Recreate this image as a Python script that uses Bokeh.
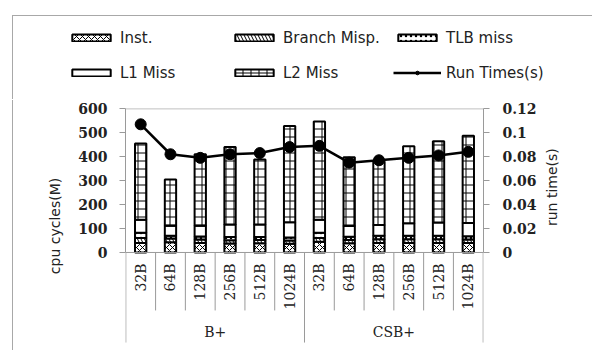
import math
from bokeh.plotting import figure
from bokeh.models import (Range1d, LinearAxis, FixedTicker, Span, Legend, LegendItem,
                          ColumnDataSource, CustomJSTickFormatter)
from bokeh.core.properties import value
from bokeh.embed import file_html
from bokeh.resources import INLINE

groups = ["B+", "CSB+"]
sizes = ["32B", "64B", "128B", "256B", "512B", "1024B"]
inst = [40, 43, 40, 37, 38, 36, 45, 38, 40, 40, 40, 40]
branch = [20, 15, 14, 14, 14, 14, 15, 14, 15, 15, 15, 14]
tlb = [22, 12, 13, 14, 13, 12, 22, 14, 15, 15, 15, 14]
l1 = [55, 42, 45, 52, 52, 64, 55, 44, 45, 52, 55, 55]
l2 = [318, 193, 298, 323, 271, 402, 410, 287, 265, 321, 339, 364]
run_time = [0.107, 0.082, 0.079, 0.082, 0.083, 0.088,
            0.089, 0.075, 0.077, 0.079, 0.081, 0.084]
series_names = ["Inst.", "Branch Misp.", "TLB miss", "L1 Miss", "L2 Miss"]
line_name = "Run Times(s)"
left_ticks = [0, 100, 200, 300, 400, 500, 600]
right_ticks = [0, 0.02, 0.04, 0.06, 0.08, 0.1, 0.12]

labels = [s for g in groups for s in sizes]
xs = list(range(1, len(labels) + 1))
n = len(labels)

src = ColumnDataSource(dict(x=xs, inst=inst, branch=branch, tlb=tlb, l1=l1, l2=l2,
                            rt=run_time, lab=labels))

GRAY = "#9a9a9a"
TXT = "#222222"
patterns = ["x", "\\", ".", " ", "+"]
scales = [6, 7, 5, 12, 8]
stackers = ["inst", "branch", "tlb", "l1", "l2"]
bar_kw = dict(fill_color="white", line_color="black", line_width=2,
              hatch_pattern=patterns, hatch_scale=scales,
              hatch_weight=[1] * 5, hatch_color="black")

# ---------------- legend strip ----------------
lf = figure(width=580, height=84, output_backend="svg", toolbar_location=None,
            x_range=Range1d(0.49, n + 0.51), y_range=Range1d(0, 600),
            x_axis_location=None, y_axis_location=None,
            min_border_left=0, min_border_right=0, min_border_top=0, min_border_bottom=0)
lf.styles = {"margin-left": "13px", "margin-top": "16px",
             "box-shadow": "-1px -1px 0 0 #a8a8a8"}
lf.grid.visible = False
lf.outline_line_color = None
lbars = lf.vbar_stack(stackers, x="x", width=0.38, source=src, visible=False, **bar_kw)
lline = lf.line("x", "rt", source=src, line_color="black", line_width=2.5, visible=False)
lpts = lf.scatter("x", "rt", source=src, size=11, fill_color="black", line_color="black",
                  visible=False)
items = [LegendItem(label=nm, renderers=[r]) for nm, r in zip(series_names, lbars)]
items.append(LegendItem(label=line_name, renderers=[lline, lpts]))
legend = Legend(items=items, location=(54, 15), orientation="horizontal", ncols=3,
                glyph_width=48, glyph_height=9, label_width=100, label_height=25,
                spacing=10, padding=0, margin=0, border_line_color=None,
                background_fill_alpha=0, inactive_fill_alpha=0,
                label_text_font="DejaVu Sans",
                label_text_font_size="15px", label_standoff=5, label_text_color=TXT)
lf.add_layout(legend)

# ---------------- main chart ----------------
p = figure(width=580, height=250, output_backend="svg", toolbar_location=None,
           x_range=Range1d(0.49, n + 0.51), y_range=Range1d(-380, 601),
           x_axis_location=None, min_border_left=112, min_border_right=110,
           min_border_top=8, min_border_bottom=7)
p.styles = {"margin-left": "13px", "box-shadow": "-1px 0 0 0 #a8a8a8"}
p.grid.visible = False
p.outline_line_color = None
p.extra_y_ranges = {"rt": Range1d(-380 / 600 * 0.12, 601 / 600 * 0.12)}

ya = p.yaxis[0]
ya.bounds = (0, 600)
ya.ticker = FixedTicker(ticks=left_ticks)
ya.axis_label = "cpu cycles(M)"

ra = LinearAxis(y_range_name="rt", bounds=(0, 0.12), ticker=FixedTicker(ticks=right_ticks),
                formatter=CustomJSTickFormatter(code="return String(Number(tick.toFixed(2)));"))
ra.axis_label = "run time(s)"
if hasattr(ra, "axis_label_orientation"):
    ra.axis_label_orientation = math.pi / 2
p.add_layout(ra, "right")

for ax in (ya, ra):
    ax.axis_line_color = GRAY
    ax.major_tick_line_color = GRAY
    ax.major_tick_in = 0
    ax.major_tick_out = 6
    ax.minor_tick_line_color = None
    ax.major_label_text_font = "DejaVu Serif"
    ax.major_label_text_font_style = "bold"
    ax.major_label_text_font_size = "14px"
    ax.major_label_text_color = TXT
    ax.axis_label_text_font = "DejaVu Sans"
    ax.axis_label_text_font_style = "normal"
    ax.axis_label_text_font_size = "14px"
    ax.axis_label_text_color = TXT
    ax.axis_label_standoff = 12
ya.major_label_standoff = 12
ra.major_label_standoff = 13

p.add_layout(Span(location=0, dimension="width", line_color=GRAY, line_width=1))
p.add_layout(Span(location=600, dimension="width", line_color=GRAY, line_width=1))

seps = [i + 0.5 for i in range(n + 1)]
ends = [-376 if (i % len(sizes) == 0) else -242 for i in range(n + 1)]
p.segment(x0=seps, y0=[0] * len(seps), x1=seps, y1=ends, line_color=GRAY, line_width=1)

p.vbar_stack(stackers, x="x", width=0.38, source=src, **bar_kw)

p.line("x", "rt", source=src, y_range_name="rt", line_color="black", line_width=2.5)
p.scatter("x", "rt", source=src, y_range_name="rt", size=11, fill_color="black",
          line_color="black")

p.text(x="x", y=-46, text="lab", source=src, angle=math.pi / 2, text_align="right",
       text_baseline="middle", text_font=value("DejaVu Serif"), text_font_size="14px",
       text_color=TXT)
gx = [sum(xs[i * len(sizes):(i + 1) * len(sizes)]) / len(sizes) for i in range(len(groups))]
p.text(x=gx, y=[-333] * len(groups), text=groups, text_align="center", text_baseline="middle",
       text_font=value("DejaVu Serif"), text_font_size="14px", text_color=TXT)

open("out.html", "w").write(file_html([lf, p], INLINE))
